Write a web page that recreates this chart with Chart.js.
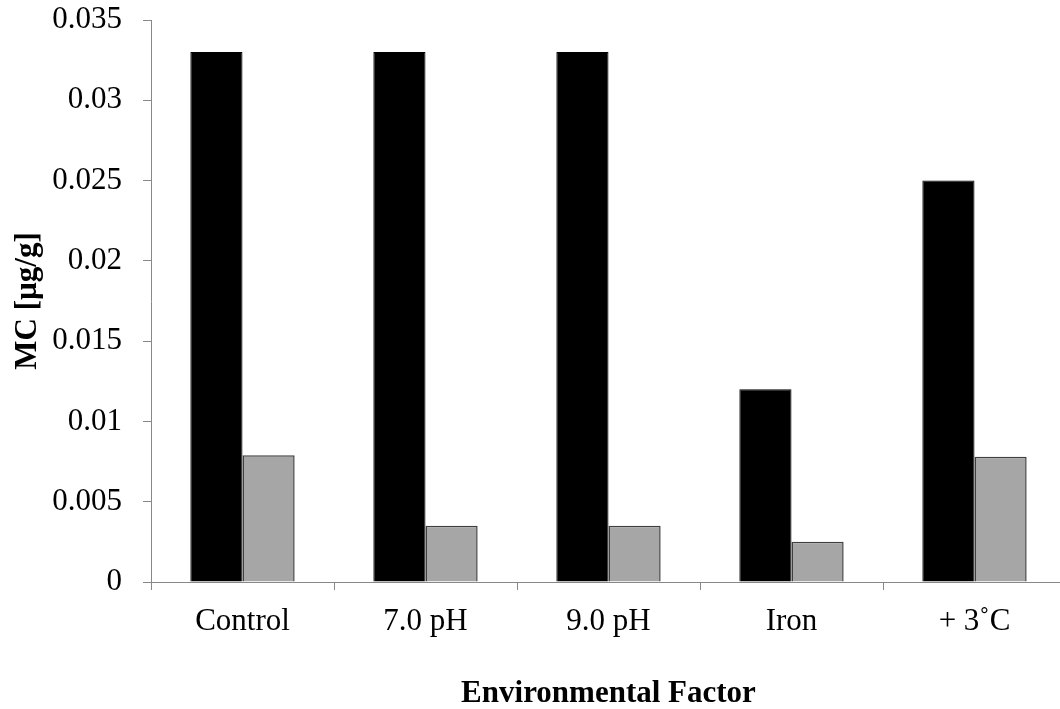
<!DOCTYPE html>
<html>
<head>
<meta charset="utf-8">
<script src="https://cdn.jsdelivr.net/npm/chart.js@4"></script>
<style>
  html, body { margin: 0; padding: 0; background: #fff; overflow: hidden; }
  #wrap { width: 1066px; height: 709px; }
</style>
</head>
<body>
<div id="wrap"><canvas id="barChart" width="1066" height="709"></canvas></div>
<script>
// Chart data
const categories = ['Control', '7.0 pH', '9.0 pH', 'Iron', '+ 3\u02DAC'];
const blackSeries = [0.033, 0.033, 0.033, 0.012, 0.025];
const graySeries = [0.0079, 0.0035, 0.0035, 0.0025, 0.0078];
const yTicks = [0, 0.005, 0.01, 0.015, 0.02, 0.025, 0.03, 0.035];

const serif = "'Liberation Serif', 'Times New Roman', serif";
const axisGray = '#888888';

const ctx = document.getElementById('barChart').getContext('2d');
new Chart(ctx, {
    type: 'bar',
    data: {
        labels: categories,
        datasets: [{
            label: 'Series 1',
            data: blackSeries,
            backgroundColor: '#000000',
            borderColor: '#000000',
            borderWidth: 1
        }, {
            label: 'Series 2',
            data: graySeries,
            backgroundColor: '#a6a6a6',
            borderColor: '#404040',
            borderWidth: 1.5
        }]
    },
    options: {
        responsive: false,
        animation: false,
        categoryPercentage: 0.57,
        barPercentage: 1.0,
        layout: { padding: 0 },
        plugins: {
            legend: { display: false },
            tooltip: { enabled: false }
        },
        scales: {
            x: {
                offset: true,
                grid: {
                    offset: true,
                    drawOnChartArea: false,
                    color: axisGray,
                    tickLength: 8
                },
                border: { color: axisGray, width: 1 },
                ticks: {
                    color: '#000',
                    padding: 13,
                    font: { family: serif, size: 31, lineHeight: 1.2 }
                },
                title: {
                    display: true,
                    text: 'Environmental Factor',
                    color: '#000',
                    padding: { top: 0, bottom: 0 },
                    font: { family: serif, size: 31, weight: 'bold', lineHeight: 1.0 }
                },
                afterFit: scale => { scale.height = 127; }
            },
            y: {
                min: 0,
                max: 0.035,
                afterBuildTicks: scale => {
                    scale.ticks = yTicks.map(v => ({ value: v }));
                },
                grid: {
                    drawOnChartArea: false,
                    color: axisGray,
                    tickLength: 8
                },
                border: { color: axisGray, width: 1 },
                ticks: {
                    color: '#000',
                    padding: 21,
                    font: { family: serif, size: 31, lineHeight: 1.2 },
                    callback: value => String(Number(value.toFixed(3)))
                },
                title: {
                    display: true,
                    text: 'MC [\u00B5g/g]',
                    color: '#000',
                    padding: { top: 9, bottom: 0 },
                    font: { family: serif, size: 31, weight: 'bold', lineHeight: 1.2 }
                },
                afterFit: scale => {
                    scale.width = 151;
                    scale.paddingTop = 20;
                }
            }
        }
    }
});
</script>
</body>
</html>
